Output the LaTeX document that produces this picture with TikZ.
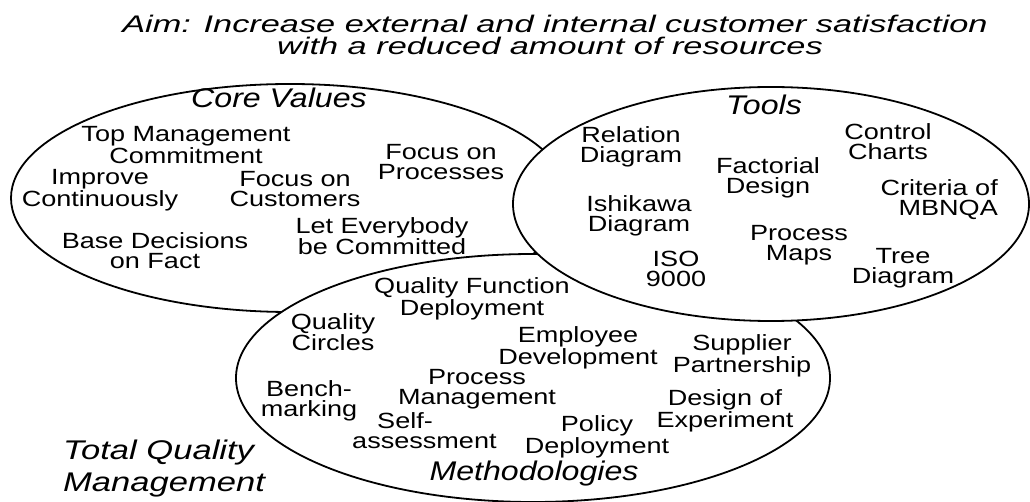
\documentclass[tikz,border=0pt]{standalone}
\usepackage{fontspec}
\setmainfont{Liberation Sans}
\newfontfamily\bodyf{Liberation Sans}[FakeStretch=1.23]
\newfontfamily\headf{Liberation Sans}[FakeStretch=1.19]
\newfontfamily\tqmf{Liberation Sans}[FakeStretch=1.28]
\newfontfamily\titlef{Liberation Sans}[FakeStretch=1.43]
\usetikzlibrary{shapes.geometric}
\tikzset{
  ring/.style={ellipse, draw=black, fill=white, line width=1.8pt, inner sep=0pt},
  item/.style={align=center, inner sep=0pt, font=\bodyf\fontsize{22pt}{20pt}\selectfont},
  head/.style={inner sep=0pt, font=\headf\itshape\fontsize{27pt}{27pt}\selectfont},
  titl/.style={inner sep=0pt, font=\titlef\itshape\fontsize{24pt}{21pt}\selectfont}
}
\begin{document}
\begin{tikzpicture}[x=1pt,y=-1pt]
\useasboundingbox (0,0) rectangle (1030,502);
% title
\node[titl] (t1) at (555,24) {Aim: Increase external and internal customer satisfaction};
\node[titl] (t2) at (550,46) {with a reduced amount of resources};
% circles
\node[ring, minimum width=558pt, minimum height=228pt] (core) at (290,198) {};
\node[ring, minimum width=594pt, minimum height=248pt] (meth) at (533,378) {};
\node[ring, minimum width=516pt, minimum height=234pt] (tools) at (771,204) {};
% core values
\node[head] (cvh) at (279,98) {Core Values};
\node[item] (cv1) at (186,145) {Top Management\\Commitment};
\node[item] (cv2) at (100,190) {Improve\\Continuously};
\node[item] (cv3) at (295,189) {Focus on\\Customers};
\node[item] (cv4) at (441,162) {Focus on\\Processes};
\node[item] (cv5) at (382,236) {Let Everybody\\be Committed};
\node[item] (cv6) at (155,251) {Base Decisions\\on Fact};
% tools
\node[head] (th) at (764,105) {Tools};
\node[item] (to1) at (631,147) {Relation\\Diagram};
\node[item] (to2) at (888,142) {Control\\Charts};
\node[item] (to3) at (768,178) {Factorial\\Design};
\node[item, align=right, anchor=east] (to4) at (998,200) {Criteria of\\MBNQA};
\node[item] (to5) at (639,216) {Ishikawa\\Diagram};
\node[item] (to6) at (799,245) {Process\\Maps};
\node[item] (to7) at (676,269) {ISO\\9000};
\node[item] (to8) at (903,268) {Tree\\Diagram};
% methodologies
\node[item] (m1) at (472,299) {Quality Function\\Deployment};
\node[item] (m2) at (333,332) {Quality\\Circles};
\node[item] (m3) at (578,348) {Employee\\Development};
\node[item] (m4) at (742,356) {Supplier\\Partnership};
\node[item] (m5) at (309,401) {Bench-\\marking};
\node[item] (m6) at (477,389) {Process\\Management};
\node[item, align=left, anchor=west] (m7) at (352,431) {\hspace*{25pt}Self-\\assessment};
\node[item, font=\bodyf\fontsize{22pt}{19pt}\selectfont] (m8) at (597,437) {Policy\\Deployment};
\node[head] (mh) at (534,474) {Methodologies};
\node[item] (m9) at (725,411) {Design of\\Experiment};
% TQM
\node[inner sep=0pt, align=left, anchor=west, font=\tqmf\itshape\fontsize{27pt}{32pt}\selectfont] (tqm) at (63,469) {Total Quality\\Management};
\end{tikzpicture}
\end{document}
